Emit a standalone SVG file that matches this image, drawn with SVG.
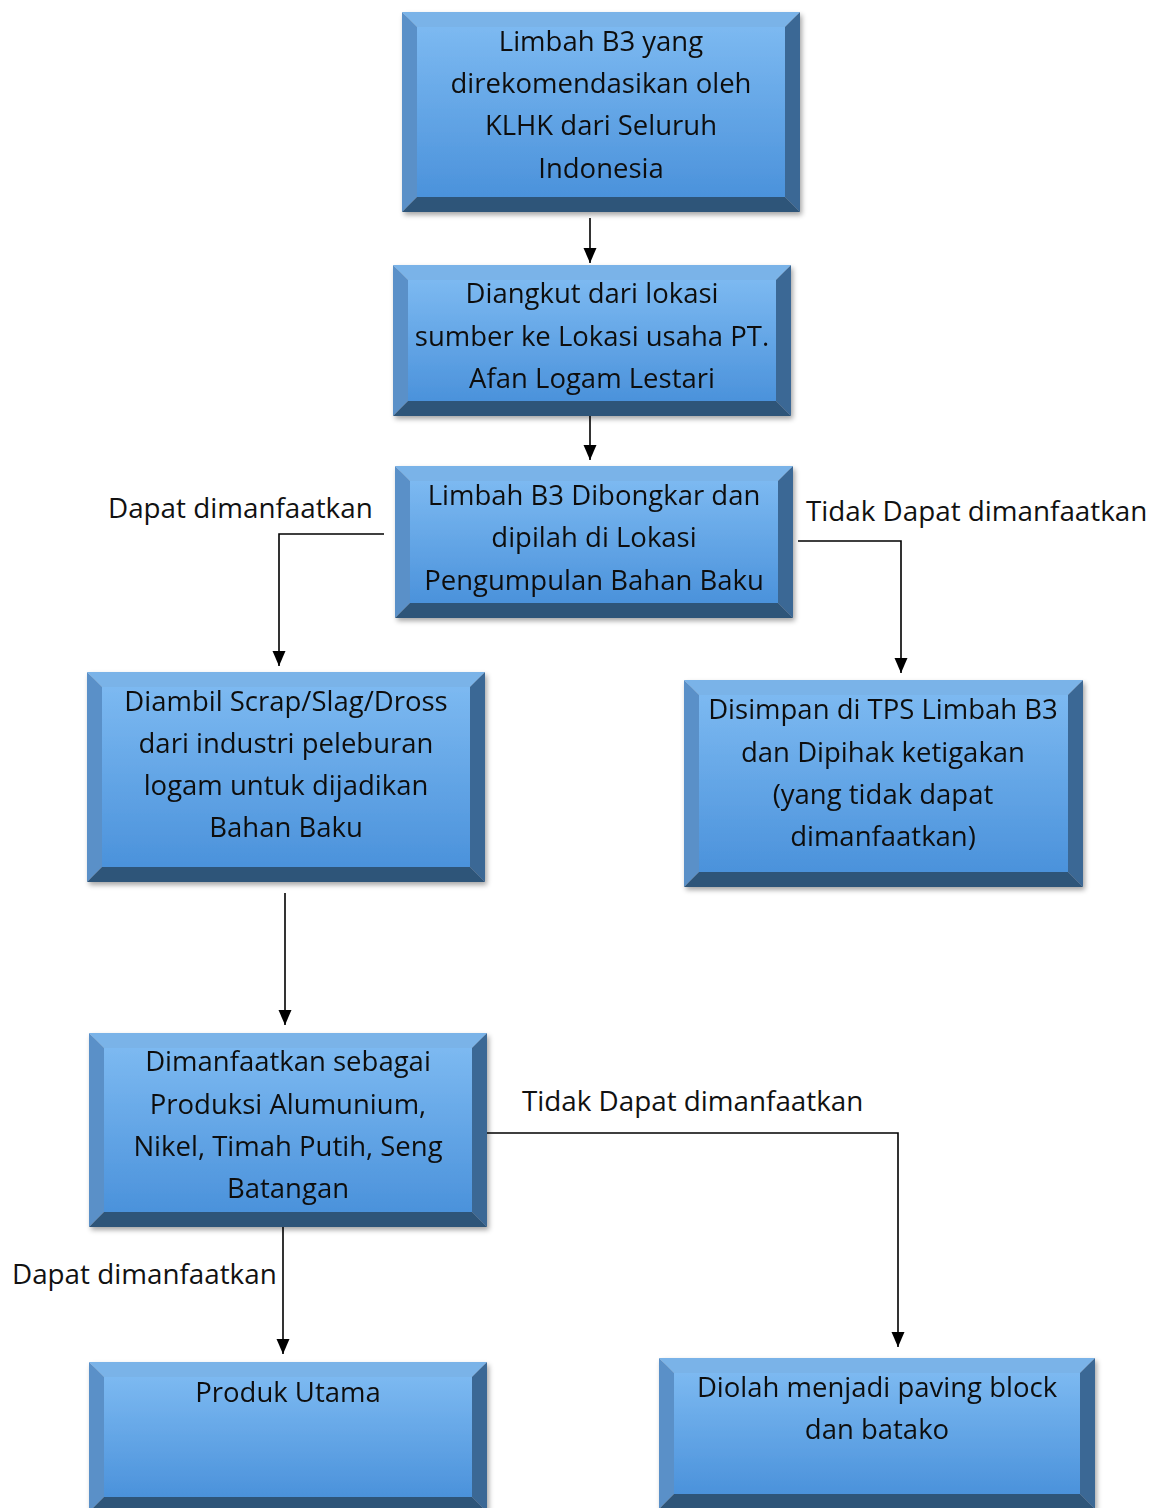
<svg xmlns="http://www.w3.org/2000/svg" width="1165" height="1508" viewBox="0 0 1165 1508">
<style>
.tp{fill:#7ab3e8}
.lf{fill:#5a90c8}
.rt{fill:#3a6795}
.bt{fill:#2f5479}
.face{fill:url(#faceG)}
.txt{font-family:"Open Sans","Liberation Sans",sans-serif;font-size:27.5px;fill:#111;text-anchor:middle}
.lbl{font-family:"Open Sans","Liberation Sans",sans-serif;font-size:27.8px;fill:#111}
.ln{fill:none;stroke:#000;stroke-width:1.6}
</style>
<defs>
<linearGradient id="faceG" x1="0" y1="0" x2="0" y2="1">
<stop offset="0" stop-color="#7cb9f1"/>
<stop offset="1" stop-color="#4b92db"/>
</linearGradient>
<filter id="sh" x="-5%" y="-5%" width="112%" height="115%">
<feDropShadow dx="2" dy="3" stdDeviation="2.5" flood-color="#000" flood-opacity="0.35"/>
</filter>
<marker id="ah" markerUnits="userSpaceOnUse" markerWidth="16" markerHeight="16" refX="15" refY="6.5" orient="auto">
<path d="M0,0 L15,6.5 L0,13 Z" fill="#000"/>
</marker>
</defs>
<rect width="1165" height="1508" fill="#fff"/>

<g id="connectors">
<path class="ln" d="M590,218 V263" marker-end="url(#ah)"/>
<path class="ln" d="M590,416 V460" marker-end="url(#ah)"/>
<path class="ln" d="M384,534 H279 V666" marker-end="url(#ah)"/>
<path class="ln" d="M798,541 H901 V673" marker-end="url(#ah)"/>
<path class="ln" d="M285,893 V1025" marker-end="url(#ah)"/>
<path class="ln" d="M487,1133 H898 V1347" marker-end="url(#ah)"/>
<path class="ln" d="M283,1222 V1354" marker-end="url(#ah)"/>
<text class="lbl" x="108" y="518">Dapat dimanfaatkan</text>
<text class="lbl" x="806" y="521">Tidak Dapat dimanfaatkan</text>
<text class="lbl" x="522" y="1111">Tidak Dapat dimanfaatkan</text>
<text class="lbl" x="12" y="1284">Dapat dimanfaatkan</text>
</g>

<g id="n1" filter="url(#sh)">
<polygon class="tp" points="402,12 800,12 785,27 417,27"/>
<polygon class="lf" points="402,12 417,27 417,197 402,212"/>
<polygon class="rt" points="800,12 800,212 785,197 785,27"/>
<polygon class="bt" points="402,212 417,197 785,197 800,212"/>
<rect class="face" x="417" y="27" width="368" height="170"/>
<text class="txt" x="601" y="51">Limbah B3 yang</text>
<text class="txt" x="601" y="93">direkomendasikan oleh</text>
<text class="txt" x="601" y="135">KLHK dari Seluruh</text>
<text class="txt" x="601" y="178">Indonesia</text>
</g>

<g id="n2" filter="url(#sh)">
<polygon class="tp" points="393,265 791,265 776,280 408,280"/>
<polygon class="lf" points="393,265 408,280 408,401 393,416"/>
<polygon class="rt" points="791,265 791,416 776,401 776,280"/>
<polygon class="bt" points="393,416 408,401 776,401 791,416"/>
<rect class="face" x="408" y="280" width="368" height="121"/>
<text class="txt" x="592" y="303">Diangkut dari lokasi</text>
<text class="txt" x="592" y="346">sumber ke Lokasi usaha PT.</text>
<text class="txt" x="592" y="388">Afan Logam Lestari</text>
</g>

<g id="n3" filter="url(#sh)">
<polygon class="tp" points="395,466 793,466 778,481 410,481"/>
<polygon class="lf" points="395,466 410,481 410,603 395,618"/>
<polygon class="rt" points="793,466 793,618 778,603 778,481"/>
<polygon class="bt" points="395,618 410,603 778,603 793,618"/>
<rect class="face" x="410" y="481" width="368" height="122"/>
<text class="txt" x="594" y="505">Limbah B3 Dibongkar dan</text>
<text class="txt" x="594" y="547">dipilah di Lokasi</text>
<text class="txt" x="594" y="590">Pengumpulan Bahan Baku</text>
</g>

<g id="n4" filter="url(#sh)">
<polygon class="tp" points="87,672 485,672 470,687 102,687"/>
<polygon class="lf" points="87,672 102,687 102,867 87,882"/>
<polygon class="rt" points="485,672 485,882 470,867 470,687"/>
<polygon class="bt" points="87,882 102,867 470,867 485,882"/>
<rect class="face" x="102" y="687" width="368" height="180"/>
<text class="txt" x="286" y="711">Diambil Scrap/Slag/Dross</text>
<text class="txt" x="286" y="753">dari industri peleburan</text>
<text class="txt" x="286" y="795">logam untuk dijadikan</text>
<text class="txt" x="286" y="837">Bahan Baku</text>
</g>

<g id="n5" filter="url(#sh)">
<polygon class="tp" points="684,680 1083,680 1068,695 699,695"/>
<polygon class="lf" points="684,680 699,695 699,872 684,887"/>
<polygon class="rt" points="1083,680 1083,887 1068,872 1068,695"/>
<polygon class="bt" points="684,887 699,872 1068,872 1083,887"/>
<rect class="face" x="699" y="695" width="369" height="177"/>
<text class="txt" x="883" y="719">Disimpan di TPS Limbah B3</text>
<text class="txt" x="883" y="762">dan Dipihak ketigakan</text>
<text class="txt" x="883" y="804">(yang tidak dapat</text>
<text class="txt" x="883" y="846">dimanfaatkan)</text>
</g>

<g id="n6" filter="url(#sh)">
<polygon class="tp" points="89,1033 487,1033 472,1048 104,1048"/>
<polygon class="lf" points="89,1033 104,1048 104,1212 89,1227"/>
<polygon class="rt" points="487,1033 487,1227 472,1212 472,1048"/>
<polygon class="bt" points="89,1227 104,1212 472,1212 487,1227"/>
<rect class="face" x="104" y="1048" width="368" height="164"/>
<text class="txt" x="288" y="1071">Dimanfaatkan sebagai</text>
<text class="txt" x="288" y="1114">Produksi Alumunium,</text>
<text class="txt" x="288" y="1156">Nikel, Timah Putih, Seng</text>
<text class="txt" x="288" y="1198">Batangan</text>
</g>

<g id="n7" filter="url(#sh)">
<polygon class="tp" points="89,1362 487,1362 472,1377 104,1377"/>
<polygon class="lf" points="89,1362 104,1377 104,1497 89,1512"/>
<polygon class="rt" points="487,1362 487,1512 472,1497 472,1377"/>
<polygon class="bt" points="89,1512 104,1497 472,1497 487,1512"/>
<rect class="face" x="104" y="1377" width="368" height="120"/>
<text class="txt" x="288" y="1402">Produk Utama</text>
</g>

<g id="n8" filter="url(#sh)">
<polygon class="tp" points="659,1358 1095,1358 1080,1373 674,1373"/>
<polygon class="lf" points="659,1358 674,1373 674,1494 659,1509"/>
<polygon class="rt" points="1095,1358 1095,1509 1080,1494 1080,1373"/>
<polygon class="bt" points="659,1509 674,1494 1080,1494 1095,1509"/>
<rect class="face" x="674" y="1373" width="406" height="121"/>
<text class="txt" x="877" y="1397">Diolah menjadi paving block</text>
<text class="txt" x="877" y="1439">dan batako</text>
</g>
</svg>
